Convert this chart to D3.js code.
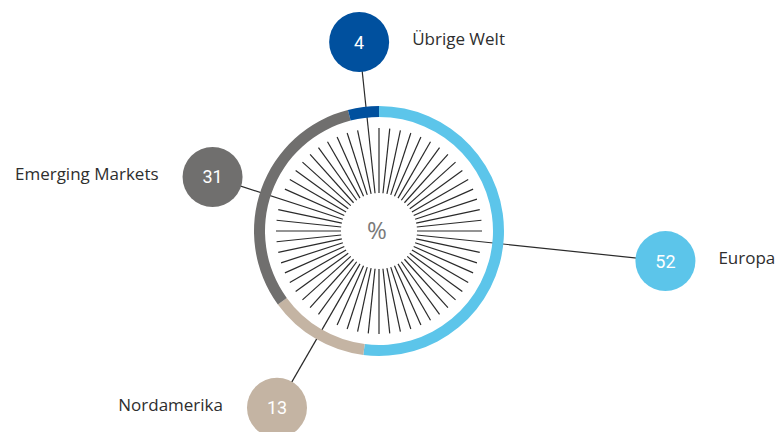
<!DOCTYPE html>
<meta charset="utf-8">
<style>
body { margin: 0; background: #fff; }
svg { display: block; }
.label { font-family: "Open Sans", sans-serif; font-size: 17px; fill: #2e2e2e; }
.value { font-family: Roboto, sans-serif; font-size: 18px; fill: #fff; }
.spoke, .leader { stroke: #2a2a2a; stroke-width: 1.2; }
</style>
<body>
<svg id="chart"></svg>
<script src="https://d3js.org/d3.v7.min.js"></script>
<script>

// data, clockwise from 12 o'clock
var regions = ["Europa", "Nordamerika", "Emerging Markets", "Übrige Welt"];
var shares  = [52, 13, 31, 4];
var colours = ["#5cc5ea", "#c4b4a3", "#706f6e", "#00509e"];

// layout
var width = 776, height = 432;
var cx = 379, cy = 231;
var spokeCount = 60;
var bubbleDist = [288, 204, 175, 190];
var bubbleR = 30;

var svg = d3.select("#chart")
    .attr("width", width)
    .attr("height", height);

var g = svg.append("g")
    .attr("transform", "translate(" + cx + "," + cy + ")");

var pie = d3.pie().sort(null).value(function(d) { return d; });
var arcs = pie(shares);

var arc = d3.arc()
    .innerRadius(114)
    .outerRadius(125);

// spoke angle scale (index -> degrees)
var spokeAngle = d3.scaleLinear().domain([0, spokeCount]).range([0, 360]);
var step = spokeAngle(1);

// leader angle = segment middle, snapped onto the spoke grid
var leaders = arcs.map(function(a, i) {
  var mid = (a.startAngle + a.endAngle) / 2 * 180 / Math.PI;
  if (mid > 180) mid -= 360;
  var ang = Math.round(mid / step) * step;
  var rad = ang * Math.PI / 180;
  return {
    i: i,
    angle: ((ang % 360) + 360) % 360,
    x: Math.sin(rad) * bubbleDist[i],
    y: -Math.cos(rad) * bubbleDist[i],
    rad: rad
  };
});

var leaderAngles = leaders.map(function(d) { return Math.round(d.angle); });

var spokes = d3.range(spokeCount).map(function(i) { return spokeAngle(i); })
  .filter(function(a) { return leaderAngles.indexOf(Math.round(a) % 360) < 0; });

g.selectAll(".spoke")
  .data(spokes)
  .enter().append("line")
    .attr("class", "spoke")
    .attr("x1", function(a) { return Math.sin(a * Math.PI / 180) * 38; })
    .attr("y1", function(a) { return -Math.cos(a * Math.PI / 180) * 38; })
    .attr("x2", function(a) { return Math.sin(a * Math.PI / 180) * 103; })
    .attr("y2", function(a) { return -Math.cos(a * Math.PI / 180) * 103; });

g.selectAll(".leader")
  .data(leaders)
  .enter().append("line")
    .attr("class", "leader")
    .attr("x1", function(d) { return Math.sin(d.rad) * 38; })
    .attr("y1", function(d) { return -Math.cos(d.rad) * 38; })
    .attr("x2", function(d) { return d.x; })
    .attr("y2", function(d) { return d.y; });

g.selectAll(".seg")
  .data(arcs)
  .enter().append("path")
    .attr("class", "seg")
    .attr("d", arc)
    .attr("fill", function(d, i) { return colours[i]; });

g.append("text")
    .attr("x", -2)
    .attr("y", 0)
    .attr("dy", "0.35em")
    .attr("text-anchor", "middle")
    .style("font-family", "Open Sans, sans-serif")
    .style("font-size", "24px")
    .style("fill", "#7a7a7a")
    .text("%");

var b = g.selectAll(".bubble")
  .data(leaders)
  .enter().append("g")
    .attr("class", "bubble")
    .attr("transform", function(d) { return "translate(" + d.x + "," + d.y + ")"; });

b.append("circle")
    .attr("r", bubbleR)
    .attr("fill", function(d) { return colours[d.i]; });

b.append("text")
    .attr("class", "value")
    .attr("text-anchor", "middle")
    .attr("dy", "0.36em")
    .text(function(d) { return shares[d.i]; });

// labels sit to the right unless the bubble is clearly left of centre
function rightSide(d) { return d.x > -40; }

b.append("text")
    .attr("class", "label")
    .attr("x", function(d) { return rightSide(d) ? bubbleR + 23 : -bubbleR - 24; })
    .attr("y", -3)
    .attr("dy", "0.35em")
    .attr("text-anchor", function(d) { return rightSide(d) ? "start" : "end"; })
    .text(function(d) { return regions[d.i]; });

</script>
</body>
